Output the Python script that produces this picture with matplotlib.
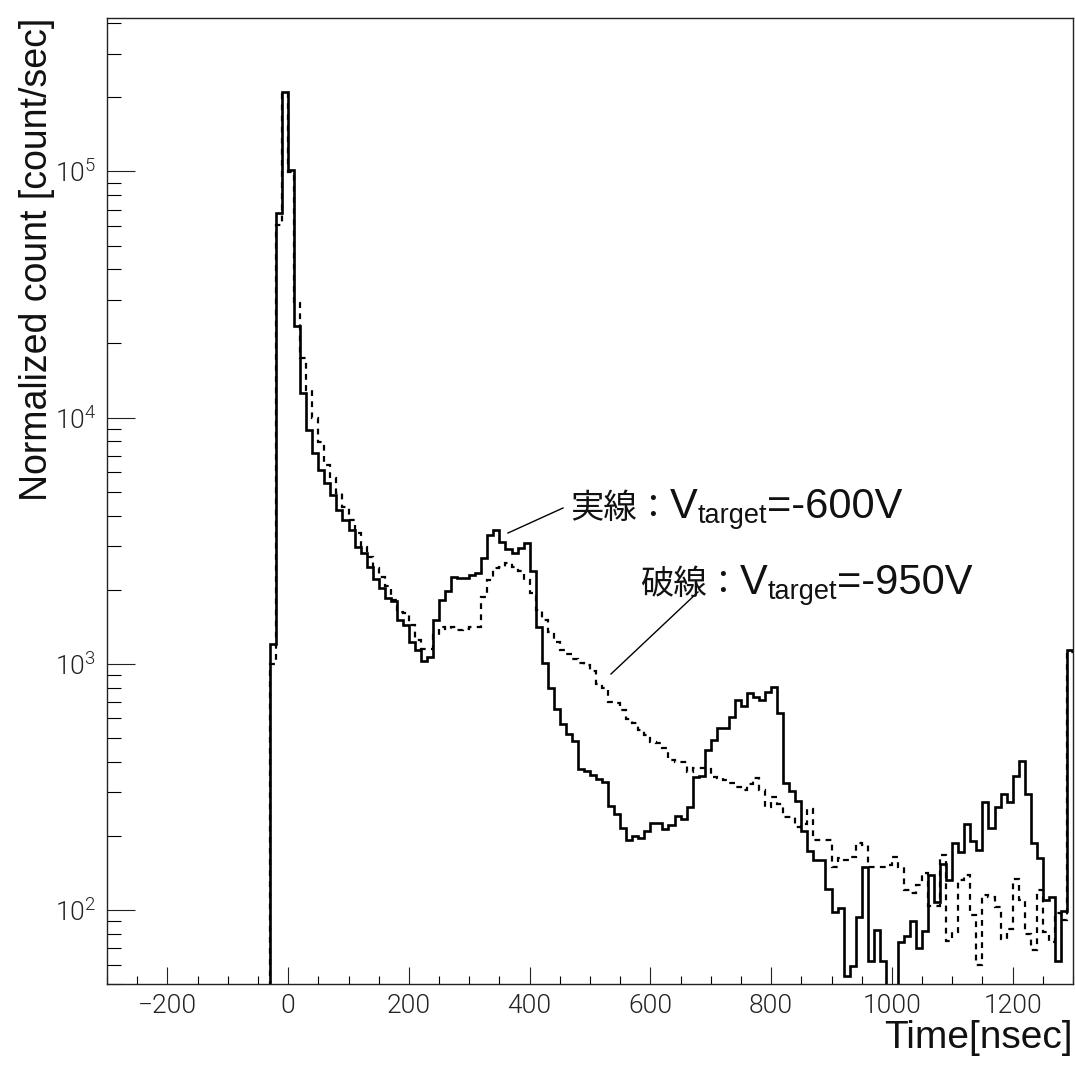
import numpy as np
import matplotlib
matplotlib.use('Agg')
import matplotlib.pyplot as plt
from matplotlib import font_manager
from matplotlib.lines import Line2D
from matplotlib.ticker import MultipleLocator, LogLocator, NullFormatter, LogFormatterSciNotation

avail = {f.name for f in font_manager.fontManager.ttflist}
LAT = 'Liberation Sans' if 'Liberation Sans' in avail else 'DejaVu Sans'
# light font for tick labels (ROOT-like thin digits)
TICKF, TICKW = LAT, 'normal'
for fam in ['Roboto', 'Lato', 'Open Sans', 'Inter']:
    if any(f.name == fam and f.weight in (200, 300, 'light', 'extra light') for f in font_manager.fontManager.ttflist):
        TICKF, TICKW = fam, 300
        break
CJK = 'Noto Sans CJK JP'

plt.rcParams['font.family'] = [LAT, 'DejaVu Sans']
plt.rcParams['mathtext.default'] = 'regular'

# ---------------- data ----------------
x_min, x_max = -300, 1300
y_min, y_max = 50, 4.2e5
bin_start = -30
bin_width = 10

solid = [1200, 68000, 211000, 101000, 23600, 12600, 8870, 7200, 6100, 5410,
         4850, 4220, 3840, 3490, 2990, 2830, 2480, 2200, 2030, 1850,
         1790, 1500, 1440, 1230, 1140, 1030, 1070, 1500, 1820, 1980,
         2260, 2220, 2230, 2290, 2340, 2680, 3330, 3500, 3130, 2920,
         2810, 2950, 3090, 2370, 1410, 1005, 794, 654, 567, 516,
         485, 373, 366, 353, 339, 331, 264, 245, 215, 192,
         200, 196, 209, 226, 226, 214, 222, 240, 235, 261,
         347, 351, 447, 490, 549, 549, 605, 712, 673, 762,
         734, 712, 769, 802, 632, 328, 305, 276, 209, 173,
         160, 160, 122, 98, 102, 54, 59, 94, 150, 62,
         83, 62, 30, 30, 74, 78, 90, 70, 82, 138,
         108, 154, 132, 187, 172, 223, 190, 175, 275, 216,
         261, 295, 275, 350, 404, 297, 187, 162, 110, 113,
         62, 99, 1137]

dashed = [1000, 60700, 208000, 99000, 29300, 17500, 12960, 10000, 7950, 6430,
          5670, 4930, 4350, 3840, 3390, 2990, 2720, 2440, 2260, 2060,
          1820, 1630, 1600, 1440, 1250, 1145, 1145, 1310, 1410, 1390,
          1410, 1370, 1390, 1410, 1410, 1870, 2190, 2440, 2470, 2560,
          2480, 2370, 2190, 1930, 1650, 1510, 1350, 1230, 1140, 1100,
          1050, 1010, 990, 930, 830, 794, 700, 690, 648, 594,
          572, 538, 513, 482, 477, 453, 406, 400, 400, 364,
          376, 376, 372, 347, 342, 336, 328, 316, 308, 326,
          342, 307, 262, 288, 270, 239, 239, 217, 224, 258,
          192, 192, 193, 150, 162, 159, 164, 187, 183, 150,
          150, 150, 152, 164, 150, 120, 117, 126, 141, 104,
          104, 167, 75, 81, 132, 138, 95, 60, 115, 113,
          103, 76, 84, 134, 110, 80, 69, 120, 81, 74,
          97, 91, 1120]

xlabel = 'Time[nsec]'
ylabel = 'Normalized count [count/sec]'
ann1 = ('実線：', 'V', 'target', '=-600V')
ann2 = ('破線：', 'V', 'target', '=-950V')

# ---------------- figure ----------------
W = 1075
fig = plt.figure(figsize=(W / 100, W / 100), dpi=100)
ax = fig.add_axes([107 / W, (W - 984) / W, 966 / W, 966 / W])

n_empty = (bin_start - x_min) // bin_width
def full(vals):
    return np.concatenate([np.full(n_empty, 1e-3), np.asarray(vals, float)])

edges = x_min + bin_width * np.arange(n_empty + len(solid) + 1)
ax.stairs(full(dashed), edges, baseline=None, color='black', lw=1.6,
          linestyle=(0, (2.6, 2.4)))
ax.stairs(full(solid), edges, baseline=None, color='black', lw=1.9)

ax.set_yscale('log')
ax.set_xlim(x_min, x_max)
ax.set_ylim(y_min, y_max)

for s in ax.spines.values():
    s.set_linewidth(1.0)
    s.set_color('#222222')

ax.xaxis.set_major_locator(MultipleLocator(200))
ax.xaxis.set_minor_locator(MultipleLocator(50))
ax.yaxis.set_major_locator(LogLocator(base=10, numticks=10))
ax.yaxis.set_minor_locator(LogLocator(base=10, subs=np.arange(2, 10), numticks=20))
ax.yaxis.set_minor_formatter(NullFormatter())
ax.yaxis.set_major_formatter(LogFormatterSciNotation())

ax.tick_params(axis='x', which='major', direction='in', length=12.5, width=0.8,
               top=False, pad=7, labelsize=19, colors='#222222')
ax.tick_params(axis='x', which='minor', direction='in', length=6, width=0.8, top=False)
ax.tick_params(axis='y', which='major', direction='in', length=20, width=0.8,
               right=False, pad=8, labelsize=19, colors='#222222')
ax.tick_params(axis='y', which='minor', direction='in', length=10, width=0.8, right=False)
for lab in ax.get_xticklabels() + ax.get_yticklabels():
    lab.set_family([TICKF, 'DejaVu Sans'])
    lab.set_fontweight(TICKW)

fig.text(1073 / W, (W - 1038) / W, xlabel, ha='right', va='center',
         fontsize=28, family=[LAT, 'DejaVu Sans'], color='#111111')
fig.text(37 / W, (W - 18) / W, ylabel, ha='center', va='top', rotation=90,
         fontsize=27, family=[LAT, 'DejaVu Sans'], color='#111111')

# ---------------- annotations ----------------
renderer = fig.canvas.get_renderer()

def rich(x_px, base_px, parts):
    big_cjk, v, sub, rest = parts
    specs = [(big_cjk, [CJK, 'DejaVu Sans'], 24, 0),
             (v, [LAT, 'DejaVu Sans'], 30, 0),
             (sub, [LAT, 'DejaVu Sans'], 19.5, 5),
             (rest, [LAT, 'DejaVu Sans'], 30, 0)]
    x = x_px
    for txt, fam, size, dy in specs:
        t = fig.text(x / W, (W - base_px - dy) / W, txt, ha='left', va='baseline',
                     fontsize=size, family=fam, color='#111111')
        bb = t.get_window_extent(renderer)
        x = bb.x1

rich(570, 518, ann1)
rich(640, 594, ann2)

fig.add_artist(Line2D([508 / W, 563 / W], [(W - 533) / W, (W - 508) / W],
                      transform=fig.transFigure, color='black', lw=1.0))
fig.add_artist(Line2D([611 / W, 698 / W], [(W - 674) / W, (W - 592) / W],
                      transform=fig.transFigure, color='black', lw=1.0))

fig.savefig('out.png', dpi=100, facecolor='white')
